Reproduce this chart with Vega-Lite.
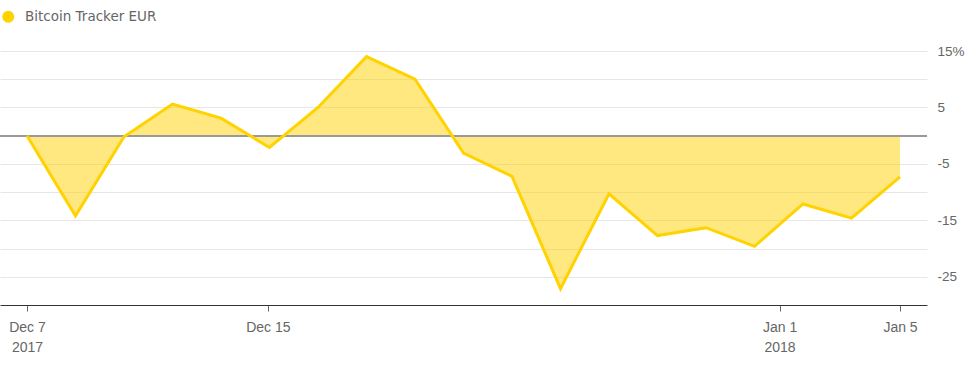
{
  "$schema": "https://vega.github.io/schema/vega-lite/v6.json",
  "width": 927,
  "height": 254,
  "autosize": "none",
  "padding": {"left": 0, "top": 51, "right": 50, "bottom": 60},
  "config": {"view": {"stroke": null}, "font": "Liberation Sans"},
  "data": {
    "values": [
      {"date": "2017-12-07T00:00:00Z", "value": 0},
      {"date": "2017-12-08T14:40:00Z", "value": -14.2},
      {"date": "2017-12-10T05:20:00Z", "value": -0.2},
      {"date": "2017-12-11T20:00:00Z", "value": 5.6},
      {"date": "2017-12-13T10:40:00Z", "value": 3.1},
      {"date": "2017-12-15T01:20:00Z", "value": -2.1},
      {"date": "2017-12-16T16:00:00Z", "value": 5.0},
      {"date": "2017-12-18T06:40:00Z", "value": 14.0},
      {"date": "2017-12-19T21:20:00Z", "value": 10.0},
      {"date": "2017-12-21T12:00:00Z", "value": -3.1},
      {"date": "2017-12-23T02:40:00Z", "value": -7.2},
      {"date": "2017-12-24T17:20:00Z", "value": -27.1},
      {"date": "2017-12-26T08:00:00Z", "value": -10.3},
      {"date": "2017-12-27T22:40:00Z", "value": -17.7},
      {"date": "2017-12-29T13:20:00Z", "value": -16.3},
      {"date": "2017-12-31T04:00:00Z", "value": -19.6},
      {"date": "2018-01-01T18:40:00Z", "value": -12.1},
      {"date": "2018-01-03T09:20:00Z", "value": -14.6},
      {"date": "2018-01-05T00:00:00Z", "value": -7.3}
    ]
  },
  "encoding": {
    "x": {
      "field": "date",
      "type": "temporal",
      "scale": {"type": "utc", "padding": 27, "nice": false},
      "axis": {
        "values": [
          {"year": 2017, "month": 12, "date": 7, "utc": true},
          {"year": 2017, "month": 12, "date": 15, "utc": true},
          {"year": 2018, "month": 1, "date": 1, "utc": true},
          {"year": 2018, "month": 1, "date": 5, "utc": true}
        ],
        "labelExpr": "(utcdate(datum.value) == 7 || utcdate(datum.value) == 1) ? [utcFormat(datum.value, '%b %-d'), utcFormat(datum.value, '%Y')] : utcFormat(datum.value, '%b %-d')",
        "title": null,
        "grid": false,
        "domainColor": "#333",
        "tickColor": "#666",
        "tickSize": 6,
        "labelPadding": 9,
        "labelColor": "#666",
        "labelFontSize": 14,
        "labelLineHeight": 20,
        "labelFlush": false,
        "labelOverlap": false
      }
    },
    "y": {
      "field": "value",
      "type": "quantitative",
      "scale": {"domain": [-30, 15], "nice": false, "zero": false},
      "axis": {
        "orient": "right",
        "values": [-25, -20, -15, -10, -5, 0, 5, 10, 15],
        "labelExpr": "datum.value == 15 ? '15%' : ((datum.value / 5) % 2 != 0 ? toString(datum.value) : '')",
        "title": null,
        "grid": true,
        "gridColor": "#e6e6e6",
        "domain": false,
        "ticks": false,
        "tickSize": 0,
        "labelPadding": 10,
        "labelColor": "#666",
        "labelFontSize": 13.5
      }
    }
  },
  "layer": [
    {
      "mark": {"type": "area", "fillOpacity": 0.5},
      "encoding": {
        "y2": {"datum": 0},
        "color": {
          "datum": "Bitcoin Tracker EUR",
          "type": "nominal",
          "scale": {"range": ["#FFD200"]},
          "legend": {
            "orient": "none",
            "legendX": 1.5,
            "legendY": -41,
            "title": null,
            "symbolType": "circle",
            "symbolSize": 144,
            "symbolOpacity": 1,
            "symbolStrokeWidth": 0,
            "labelFont": "DejaVu Sans",
            "labelFontSize": 13.5,
            "labelColor": "#666",
            "labelOffset": 10,
            "padding": 0
          }
        }
      }
    },
    {
      "mark": {"type": "rule", "color": "#999", "strokeWidth": 1},
      "encoding": {"x": null, "y": {"datum": 0}}
    },
    {
      "mark": {"type": "line", "color": "#FFD200", "strokeWidth": 3}
    }
  ]
}
